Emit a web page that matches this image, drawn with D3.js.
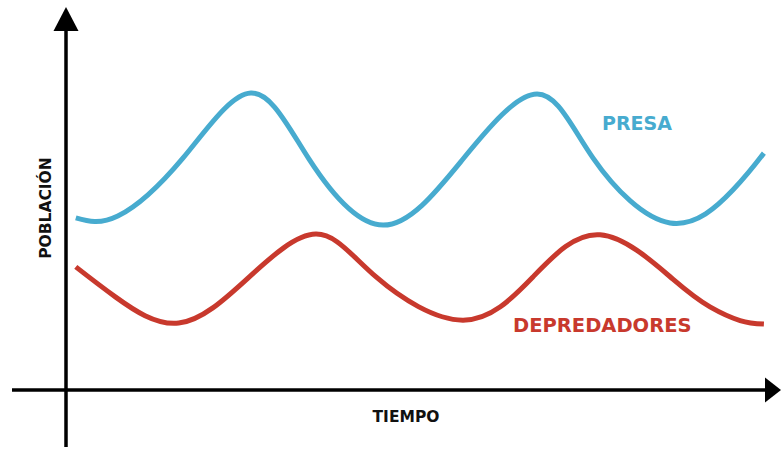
<!DOCTYPE html>
<html>
<head>
<meta charset="utf-8">
<script src="https://cdn.jsdelivr.net/npm/d3@7"></script>
<style>
  html, body { margin: 0; padding: 0; background: #fff; }
  svg { display: block; }
</style>
</head>
<body>
<svg id="chart" width="781" height="450"></svg>
<script>
// ---- data (time in arbitrary units 0..100, population 0..100) ----
const preyTime = [1.4, 7.4, 16.7, 26.4, 34.7, 45.3, 56.6, 67.3, 75.3, 86.3, 95.3, 99.7];
const preyPop  = [47.8, 48.3, 64.4, 82.5, 64.2, 45.8, 63.9, 82.2, 64.4, 46.4, 55.6, 65.8];
const predTime = [1.4, 7.1, 16.1, 26.0, 35.7, 44.3, 56.7, 66.7, 76.3, 86.7, 92.0, 96.3, 99.7];
const predPop  = [34.2, 25.8, 18.6, 31.1, 43.3, 31.4, 19.4, 31.4, 43.1, 30.8, 23.1, 19.3, 18.3];
const seriesNames = ["PRESA", "DEPREDADORES"];
const axisLabels = { x: "TIEMPO", y: "POBLACIÓN" };

// ---- layout ----
const svg = d3.select("#chart");
const x = d3.scaleLinear().domain([0, 100]).range([66, 766]);
const y = d3.scaleLinear().domain([0, 100]).range([390, 30]);

const blue = "#47abcf";
const red = "#c8392d";
const font = "'DejaVu Sans', sans-serif";

// ---- axes ----
const x0 = x(0), y0 = y(0);
svg.append("line")
  .attr("x1", 12).attr("x2", 766)
  .attr("y1", y0).attr("y2", y0)
  .attr("stroke", "#000").attr("stroke-width", 3.5);
svg.append("line")
  .attr("x1", x0).attr("x2", x0)
  .attr("y1", 447).attr("y2", y(100) + 1)
  .attr("stroke", "#000").attr("stroke-width", 3.5);
// arrow heads
svg.append("path")
  .attr("d", `M${x0},7 L${x0 + 12.5},31 L${x0 - 12.5},31 Z`)
  .attr("fill", "#000");
svg.append("path")
  .attr("d", `M781,${y0} L765,${y0 - 12.5} L765,${y0 + 12.5} Z`)
  .attr("fill", "#000");

// ---- curves ----
const line = d3.line()
  .x(d => x(d[0]))
  .y(d => y(d[1]))
  .curve(d3.curveNatural);

const prey = preyTime.map((t, i) => [t, preyPop[i]]);
const pred = predTime.map((t, i) => [t, predPop[i]]);

svg.append("path").datum(pred)
  .attr("d", line).attr("fill", "none")
  .attr("stroke", red).attr("stroke-width", 5);
svg.append("path").datum(prey)
  .attr("d", line).attr("fill", "none")
  .attr("stroke", blue).attr("stroke-width", 5);

// ---- labels ----
svg.append("text")
  .attr("x", 602).attr("y", 130)
  .attr("font-family", font).attr("font-weight", "bold")
  .attr("font-size", 19).attr("fill", blue)
  .text(seriesNames[0]);
svg.append("text")
  .attr("x", 513).attr("y", 332)
  .attr("font-family", font).attr("font-weight", "bold")
  .attr("font-size", 19.5).attr("fill", red)
  .text(seriesNames[1]);
svg.append("text")
  .attr("x", 406).attr("y", 422)
  .attr("text-anchor", "middle")
  .attr("font-family", font).attr("font-weight", "bold")
  .attr("font-size", 15.5).attr("fill", "#111")
  .text(axisLabels.x);
svg.append("text")
  .attr("transform", "translate(51,208) rotate(-90)")
  .attr("text-anchor", "middle")
  .attr("font-family", font).attr("font-weight", "bold")
  .attr("font-size", 15.5).attr("fill", "#111")
  .text(axisLabels.y);
</script>
</body>
</html>
